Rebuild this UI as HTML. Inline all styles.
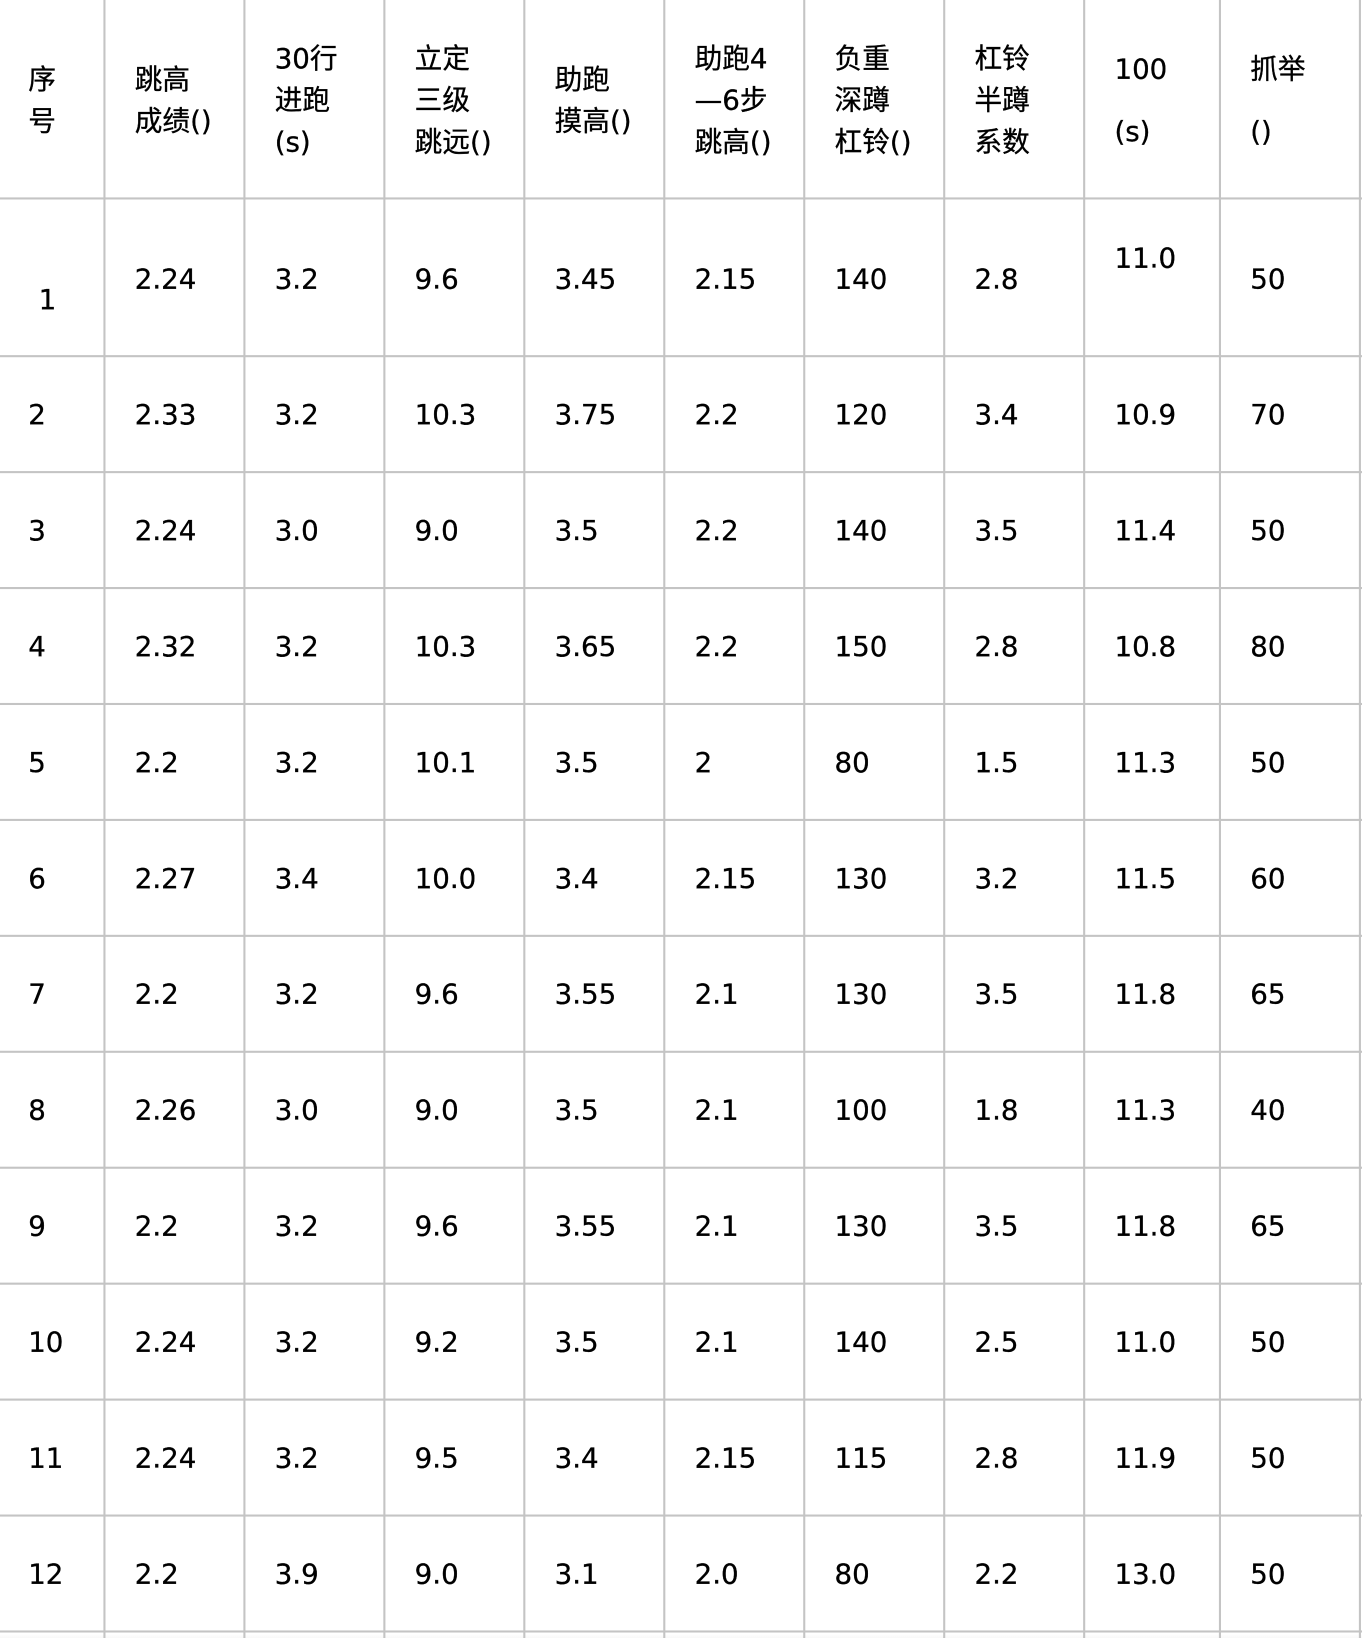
<!DOCTYPE html>
<html><head><meta charset="utf-8"><style>
html,body{margin:0;padding:0;background:#fff;width:1362px;height:1638px;overflow:hidden;position:relative;font-family:"DejaVu Sans","Liberation Sans","Noto Sans CJK SC",sans-serif;color:#000}
#wrap{position:absolute;left:0;top:0;width:1304px;height:1569px;transform:scale(1.04448);transform-origin:0 0}
.v{position:absolute;top:0;width:2px;height:1569px;background:#c4c4c4}
.h{position:absolute;left:0;width:1304px;height:2px;background:#c4c4c4}
.t{position:absolute;font-size:26.5px;line-height:40px;white-space:nowrap;transform:translateY(-50%);-webkit-text-stroke:0.3px #000}
.foot{position:absolute;left:0;top:1564px;width:1304px;height:10px;background:linear-gradient(#fff,#f0f0f0)}
</style></head><body>
<div id="wrap">
<div class="foot"></div>
</div>
<script>
const colLines=[100,234,368,502,636,770,904,1038,1168,1302];
const colText=[27,129,263,397,531,665,799,933,1067,1197];
const headers=[["序","号"],["跳高","成绩()"],["30行","进跑","(s)"],["立定","三级","跳远()"],["助跑","摸高()"],["助跑4","—6步","跳高()"],["负重","深蹲","杠铃()"],["杠铃","半蹲","系数"],["100","(s)"],["抓举","()"]];
const rows=[
["1","2.24","3.2","9.6","3.45","2.15","140","2.8","11.0","50"],
["2","2.33","3.2","10.3","3.75","2.2","120","3.4","10.9","70"],
["3","2.24","3.0","9.0","3.5","2.2","140","3.5","11.4","50"],
["4","2.32","3.2","10.3","3.65","2.2","150","2.8","10.8","80"],
["5","2.2","3.2","10.1","3.5","2","80","1.5","11.3","50"],
["6","2.27","3.4","10.0","3.4","2.15","130","3.2","11.5","60"],
["7","2.2","3.2","9.6","3.55","2.1","130","3.5","11.8","65"],
["8","2.26","3.0","9.0","3.5","2.1","100","1.8","11.3","40"],
["9","2.2","3.2","9.6","3.55","2.1","130","3.5","11.8","65"],
["10","2.24","3.2","9.2","3.5","2.1","140","2.5","11.0","50"],
["11","2.24","3.2","9.5","3.4","2.15","115","2.8","11.9","50"],
["12","2.2","3.9","9.0","3.1","2.0","80","2.2","13.0","50"]];
const rowLines=[190,341,452,563,674,785,896,1007,1118,1229,1340,1451,1562];
const wrap=document.getElementById('wrap');
function add(cls,css,txt){const d=document.createElement('div');d.className=cls;Object.assign(d.style,css);if(txt!==undefined)d.innerHTML=txt;wrap.appendChild(d);return d;}
colLines.forEach(x=>{const d=add('v',{left:(x-1)+'px'});

});
rowLines.forEach(y=>{const d=add('h',{top:(y-1)+'px'});

});
headers.forEach((lines,i)=>{
  const lh=(i>=8)?60:40;
  const d=add('t',{left:colText[i]+'px',top:'97px',lineHeight:lh+'px'},lines.join('<br>'));
  
  
});
rows.forEach((r,ri)=>{
  const cy=ri===0?268:398+(ri-1)*111;
  r.forEach((v,ci)=>{
    let y=cy,x=colText[ci];
    if(ri===0&&ci===0){y=288;x=37;}
    if(ri===0&&ci===8)y=248;
    const d=add('t',{left:x+'px',top:y+'px'},v);
    
    
  });
});
</script>
</body></html>
